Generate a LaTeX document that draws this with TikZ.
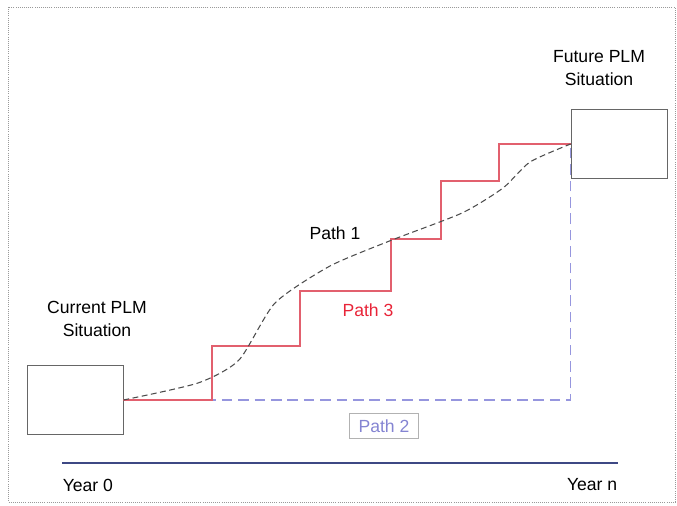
\documentclass[tikz,border=0pt]{standalone}
\usepackage{fontspec}
\setmainfont{Liberation Sans}
\usepackage{tikz}
\usetikzlibrary{arrows.meta, positioning, calc}

\begin{document}
\begin{tikzpicture}[x=0.03cm, y=-0.03cm,
    plmbox/.style={rectangle, draw=black!60, semithick, minimum width=2.88cm, minimum height=2.07cm},
    caption/.style={align=center, font=\fontsize{15}{19}\selectfont},
    path1/.style={draw=black!70, line width=0.9pt, dash pattern=on 5pt off 3pt},
    path2/.style={draw=pathblue, line width=1.3pt, dash pattern=on 9pt off 5pt},
    path3/.style={draw=pathred, line width=0.9pt}]

    % Define colors
    \definecolor{pathred}{RGB}{226,96,110}
    \definecolor{labelred}{RGB}{232,36,56}
    \definecolor{pathblue}{RGB}{150,150,222}
    \definecolor{labelblue}{RGB}{132,132,210}
    \definecolor{axisblue}{RGB}{62,72,132}

    \useasboundingbox (0,0) rectangle (677,505);
    \draw[black!40, densely dotted, line width=0.8pt] (8,7) rectangle (675,502);

    % Nodes
    \node[plmbox] (current) at (75,400) {};
    \node[plmbox] (future) at (619,144) {};
    \node[caption] (currentlbl) at (97,319) {Current PLM\\Situation};
    \node[caption] (futurelbl) at (599,68) {Future PLM\\Situation};
    \node[caption] (p1lbl) at (335,233) {Path 1};
    \node[caption, text=labelred] (p3lbl) at (368,310) {Path 3};
    \node[caption, text=labelblue, draw=black!30, semithick, inner xsep=8pt, inner ysep=5pt] (p2lbl) at (384,426) {Path 2};

    % Time axis
    \coordinate (y0) at (62,463);
    \coordinate (yn) at (618,463);
    \draw[axisblue, line width=1.3pt] (y0) -- (yn);
    \node[caption, below right=0.35cm and -0.1cm of y0] (year0) {Year 0};
    \node[caption, below left=0.35cm and -0.1cm of yn] (yearn) {Year n};

    % Paths
    \draw[path2] (current.east) -| (future.west);
    \draw[path3] (current.east) -| (212,346) -| (300,291) -| (391,239) -| (441,181) -| (499,144) -- (future.west);
    \draw[path1] plot[smooth, tension=0.4] coordinates {(current.east) (198,383) (239,360) (275,303) (330,266) (392,240) (462,213) (503,188) (530,162) (future.west)};

\end{tikzpicture}
\end{document}
